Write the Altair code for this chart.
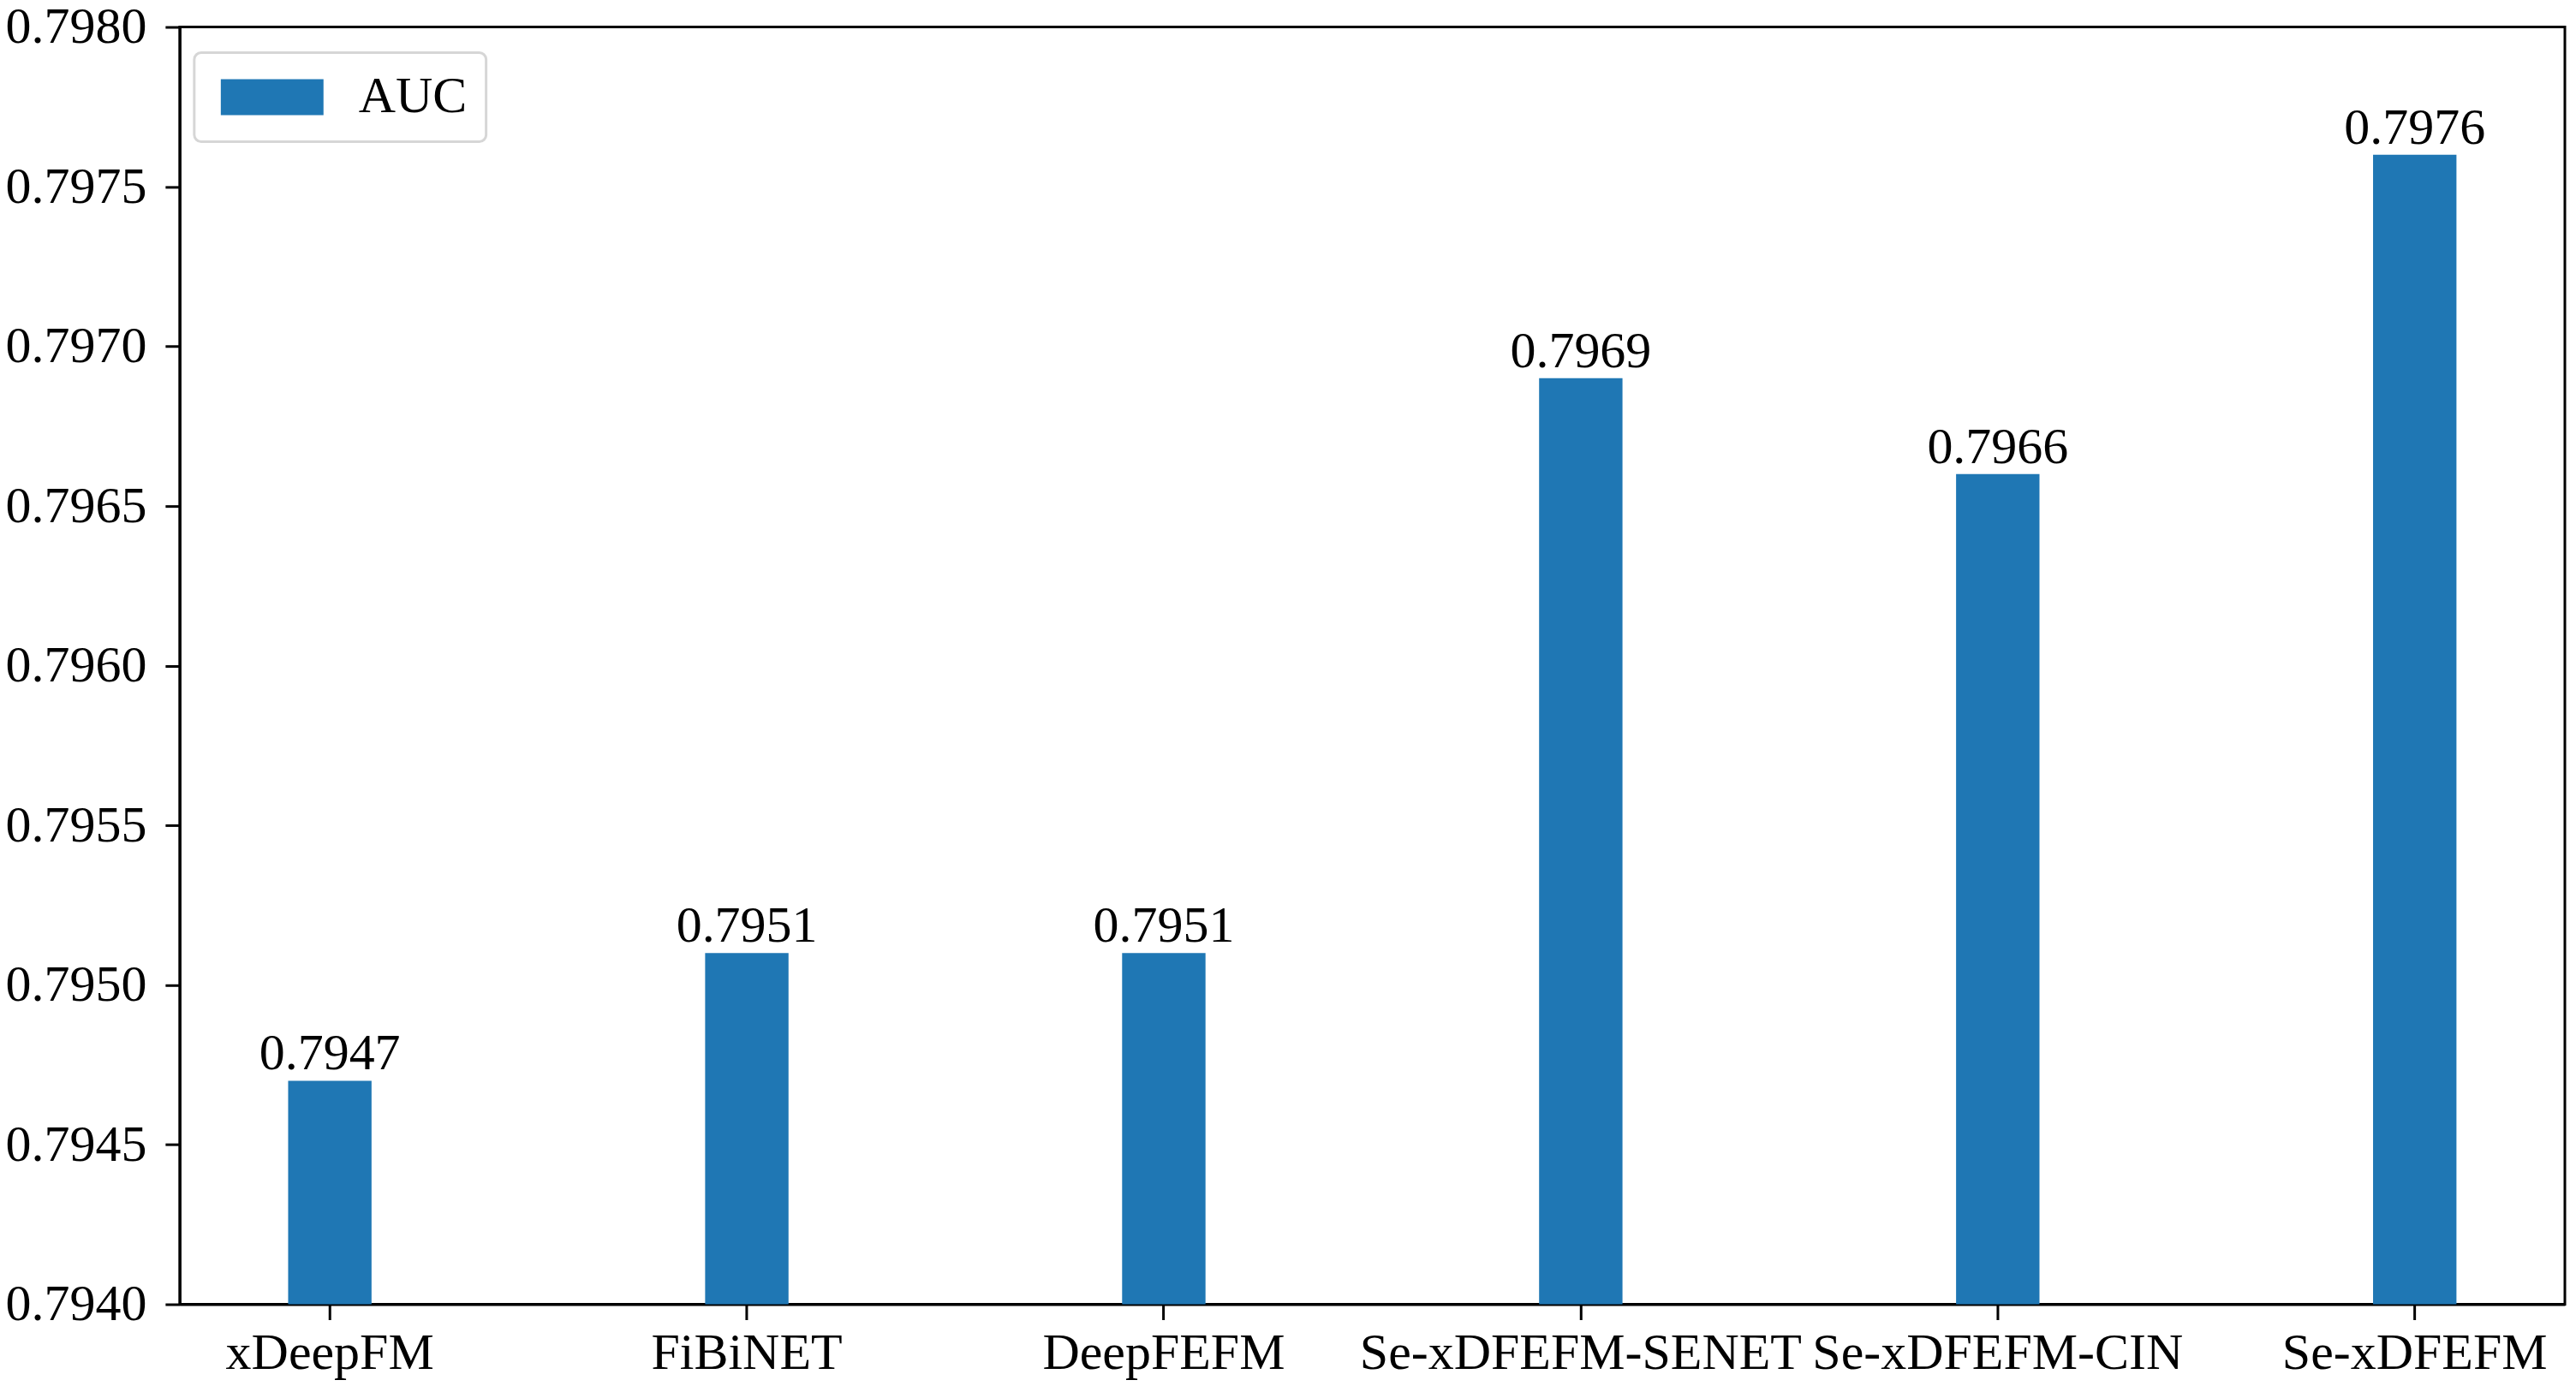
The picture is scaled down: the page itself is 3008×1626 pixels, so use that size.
import altair as alt
import pandas as pd

models = ["xDeepFM", "FiBiNET", "DeepFEFM", "Se-xDFEFM-SENET", "Se-xDFEFM-CIN", "Se-xDFEFM"]
auc = [0.7947, 0.7951, 0.7951, 0.7969, 0.7966, 0.7976]
y_ticks = [0.7940, 0.7945, 0.7950, 0.7955, 0.7960, 0.7965, 0.7970, 0.7975, 0.7980]
y_min, y_max = 0.7940, 0.7980
series_name = "AUC"

df = pd.DataFrame({"model": models, "auc": auc, "series": [series_name] * len(models)})

FONT = "Liberation Serif"
FS = 60
BLUE = "#1f77b4"

x_enc = alt.X(
    "model:N",
    sort=models,
    scale=alt.Scale(paddingInner=0.8, paddingOuter=0.26),
    axis=alt.Axis(
        title=None, labelAngle=0, labelFont=FONT, labelFontSize=FS, labelColor="black",
        labelLimit=0, labelOverlap=False,
        tickSize=18, tickWidth=3, tickColor="black", labelPadding=10,
        domainColor="black", domainWidth=3, grid=False,
    ),
)
y_scale = alt.Scale(domain=[y_min, y_max], nice=False, zero=False)

bars = alt.Chart(df).mark_bar().encode(
    x=x_enc,
    y=alt.Y(
        "auc:Q",
        scale=y_scale,
        axis=alt.Axis(
            title=None, values=y_ticks, format=".4f", labelFont=FONT, labelFontSize=FS,
            labelColor="black", tickSize=17, tickWidth=3, tickColor="black", labelPadding=22,
            domainColor="black", domainWidth=3, grid=False,
        ),
    ),
    y2=alt.datum(y_min),
    color=alt.Color(
        "series:N",
        scale=alt.Scale(domain=[series_name], range=[BLUE]),
        legend=alt.Legend(
            title=None, orient="none", legendX=17, legendY=30,
            symbolType="M-1,-1 L4.714,-1 L4.714,1 L-1,1 Z", symbolSize=1764,
            symbolStrokeWidth=0, symbolOpacity=1,
            labelFont=FONT, labelFontSize=FS, labelColor="black", labelOffset=110,
            padding=22, strokeColor="#d6d6d6", cornerRadius=8, fillColor="white",
        ),
    ),
)

labels = alt.Chart(df).mark_text(
    font=FONT, fontSize=FS, color="black", baseline="alphabetic", dy=-13
).encode(
    x=alt.X("model:N", sort=models),
    y=alt.Y("auc:Q", scale=y_scale),
    text=alt.Text("auc:Q", format=".4f"),
)

chart = (
    alt.layer(bars, labels)
    .properties(
        width=2787, height=1493,
        autosize=alt.AutoSizeParams(type="none"),
        padding={"left": 202, "top": 23, "right": 5, "bottom": 100},
    )
    .configure_view(stroke="black", strokeWidth=3)
    .configure_legend(strokeWidth=3)
)

chart.save("out.html", embed_options={"renderer": "svg", "actions": False})
